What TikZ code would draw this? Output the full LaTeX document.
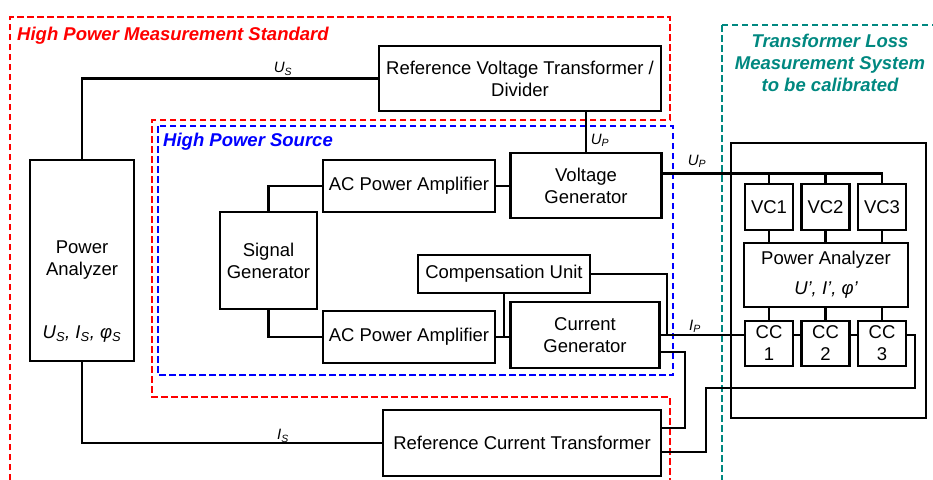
\documentclass[tikz,border=0pt]{standalone}
\usepackage{fontspec}
\setmainfont{Liberation Sans}
\usepackage{tikz}
\usetikzlibrary{positioning}
\definecolor{stdred}{RGB}{255,0,0}
\definecolor{srcblue}{RGB}{0,0,255}
\definecolor{tlmteal}{RGB}{0,136,128}
\newcommand{\lsub}[1]{\textsubscript{#1}}

\begin{document}
\begin{tikzpicture}[x=1pt, y=-1pt,
    every node/.style={font=\fontsize{18.5}{22}\selectfont},
    blk/.style={draw, line width=2.2pt, align=center, inner sep=1pt},
    wire/.style={line width=2.2pt},
    zone/.style={line width=2.5pt, dash pattern=on 6.5pt off 3.5pt},
    zonetitle/.style={font=\fontsize{18.5}{22}\selectfont\bfseries\itshape, anchor=west, inner sep=0pt},
    sig/.style={font=\fontsize{15}{17}\selectfont\itshape}]
        \useasboundingbox (0,0) rectangle (933,479);
        \draw[zone, stdred] (10,490) -- (10,17) -- (670,17) -- (670,120) -- (152,120) -- (152,397) -- (670,397) -- (670,490);
        \draw[zone, srcblue] (158,126) rectangle (673,375);
        \draw[zone, tlmteal] (722,25) rectangle (950,495);
        \node[zonetitle, text=stdred] (std-title) at (17,36) {High Power Measurement Standard};
        \node[zonetitle, text=srcblue] (src-title) at (163,142) {High Power Source};
        \node[zonetitle, text=tlmteal, anchor=center, align=center] (tlm-title) at (830,63) {Transformer Loss\\Measurement System\\to be calibrated};
        \node[blk, minimum width=282pt, minimum height=65pt] (rvt) at (520,78.5) {Reference Voltage Transformer /\\Divider};
        \node[blk, minimum width=104pt, minimum height=201pt] (pa) at (82,260.5) {Power\\Analyzer};
        \node (pa-vals) at (82,334) {\itshape U\lsub{S}, I\lsub{S}, φ\lsub{S}};
        \node[blk, minimum width=97pt, minimum height=97pt] (sg) at (268.5,260.5) {Signal\\Generator};
        \node[blk, minimum width=172pt, minimum height=52pt] (amp-v) at (409,186) {AC Power Amplifier};
        \node[blk, minimum width=172pt, minimum height=52pt] (amp-c) at (409,337) {AC Power Amplifier};
        \node[blk, minimum width=151pt, minimum height=65pt] (vg) at (586,185.5) {Voltage\\Generator};
        \node[blk, minimum width=149pt, minimum height=66pt] (cg) at (585,335) {Current\\Generator};
        \node[blk, minimum width=172pt, minimum height=38pt] (comp) at (504,274) {Compensation Unit};
        \node[blk, minimum width=278pt, minimum height=66pt] (rct) at (522,443) {Reference Current Transformer};
        \node[draw, line width=1.8pt, minimum width=195pt, minimum height=275pt] (tlm) at (828.5,280.5) {};
        \node[blk, minimum width=48pt, minimum height=46pt] (vc1) at (769,207) {VC1};
        \node[blk, minimum width=48pt, minimum height=46pt] (vc2) at (825.5,207) {VC2};
        \node[blk, minimum width=48pt, minimum height=46pt] (vc3) at (882,207) {VC3};
        \node[blk, minimum width=164pt, minimum height=64pt] (pa2) at (826,275) {Power Analyzer\\[8pt]\itshape U’, I’, φ’};
        \node[blk, minimum width=48pt, minimum height=45pt] (cc1) at (769,343.5) {CC\\1};
        \node[blk, minimum width=48pt, minimum height=45pt] (cc2) at (825.5,343.5) {CC\\2};
        \node[blk, minimum width=48pt, minimum height=45pt] (cc3) at (882,343.5) {CC\\3};
        \coordinate (jct) at (667,335);
        \coordinate (cc-ret) at (915,388);
        \draw[wire] (pa.north) |- (rvt.west);
        \node[sig] (us) at (283,69) {U\lsub{S}};
        \draw[wire] (vg.north) -- (vg.north |- rvt.south);
        \node[sig] (up) at (600,140) {U\lsub{P}};
        \draw[wire] (amp-v.east) -- (amp-v.east -| vg.west);
        \draw[wire] (amp-v.west) -| (sg.north);
        \draw[wire] (sg.south) |- (amp-c.west);
        \draw[wire] (amp-c.east) -- (amp-c.east -| cg.west);
        \draw[wire] (comp.south) -- (comp.south |- amp-c.east);
        \draw[wire] (comp.east) -| (jct);
        \draw[wire] (cg.east) -- (cg.east -| cc1.west);
        \draw[wire] (cc1.east |- cg.east) -- (cc2.west |- cg.east);
        \draw[wire] (cc2.east |- cg.east) -- (cc3.west |- cg.east);
        \node[sig] (ip) at (695,326) {I\lsub{P}};
        \draw[wire] ([yshift=-17pt]cg.east) -- ++(24,0) |- ([yshift=15pt]rct.east);
        \draw[wire] ([yshift=-9pt]rct.east) -- ++(44,0) |- (cc-ret) |- (cc3.east |- cg.east);
        \draw[wire] (pa.south) |- (rct.west);
        \node[sig] (is) at (283,436) {I\lsub{S}};
        \draw[wire] ([yshift=12pt]vg.east) -| (vc3.north);
        \draw[wire] (vc1.north) -- ++(0,-10);
        \draw[wire] (vc2.north) -- ++(0,-10);
        \node[sig] (up-out) at (697,161) {U\lsub{P}};
        \draw[wire] (vc1.south) -- (vc1.south |- pa2.north);
        \draw[wire] (vc2.south) -- (vc2.south |- pa2.north);
        \draw[wire] (vc3.south) -- (vc3.south |- pa2.north);
        \draw[wire] (cc1.north) -- (cc1.north |- pa2.south);
        \draw[wire] (cc2.north) -- (cc2.north |- pa2.south);
        \draw[wire] (cc3.north) -- (cc3.north |- pa2.south);
      \end{tikzpicture}
\end{document}
